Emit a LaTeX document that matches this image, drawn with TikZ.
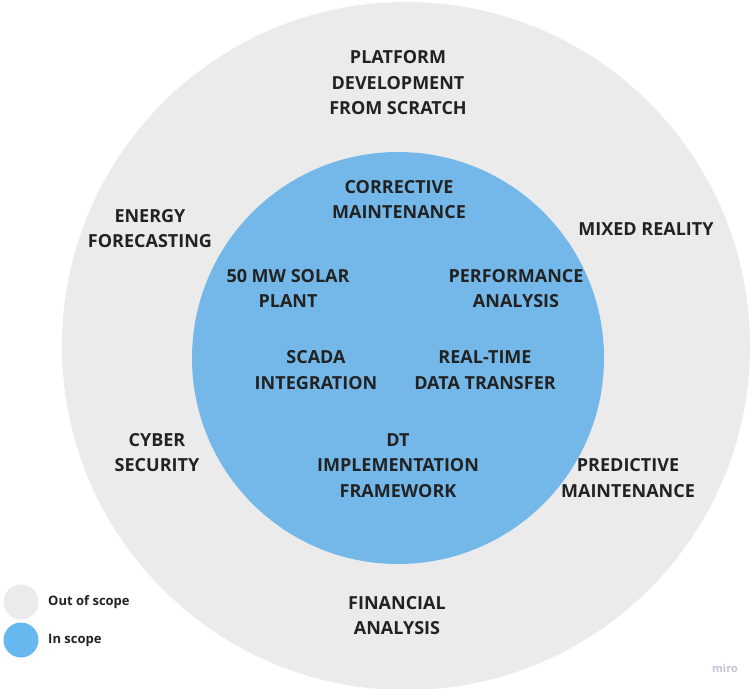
\documentclass[tikz,border=0pt]{standalone}
\usepackage{fontspec}
\setmainfont{Open Sans}
\definecolor{outgray}{HTML}{EBEBEB}
\definecolor{inblue}{HTML}{74B8EA}
\definecolor{legblue}{HTML}{67B8EF}
\definecolor{txt}{HTML}{222222}
\definecolor{mirocol}{HTML}{C4C4D4}
\begin{document}
\begin{tikzpicture}[x=1pt,y=-1pt,
  lbl/.style={align=center,text=txt,font=\fontsize{18}{25.5}\selectfont\bfseries,inner sep=0pt},
  legtxt/.style={anchor=west,text=txt,font=\fontsize{13}{14}\selectfont\bfseries,inner sep=0pt}]
\useasboundingbox (0,0) rectangle (751,688);
\fill[outgray] (406,346) circle (344);
\fill[inblue] (398,358) circle (206);
\node[lbl] (pdev) at (398,83) {PLATFORM\\DEVELOPMENT\\FROM SCRATCH};
\node[lbl] (ef) at (150,228.5) {ENERGY\\FORECASTING};
\node[lbl] (mr) at (646,229) {MIXED REALITY};
\node[lbl] (cm) at (399,199.5) {CORRECTIVE\\MAINTENANCE};
\node[lbl] (solar) at (288,288.5) {50 MW SOLAR\\PLANT};
\node[lbl] (pa) at (516,288.5) {PERFORMANCE\\ANALYSIS};
\node[lbl] (scada) at (316,370) {SCADA\\INTEGRATION};
\node[lbl] (rt) at (485,370) {REAL-TIME\\DATA TRANSFER};
\node[lbl] (cs) at (157,452.5) {CYBER\\SECURITY};
\node[lbl] (dt) at (398,465.5) {DT\\IMPLEMENTATION\\FRAMEWORK};
\node[lbl] (pm) at (628,478) {PREDICTIVE\\MAINTENANCE};
\node[lbl] (fa) at (397,615.5) {FINANCIAL\\ANALYSIS};
\fill[outgray] (21,602) circle (17.5);
\fill[legblue] (21,640) circle (17.5);
\node[legtxt] (lo) at (48,602) {Out of scope};
\node[legtxt] (li) at (48,640) {In scope};
\node[text=mirocol,font=\fontsize{11}{12}\selectfont\bfseries,inner sep=0pt] (miro) at (725,668) {miro};
\end{tikzpicture}
\end{document}
